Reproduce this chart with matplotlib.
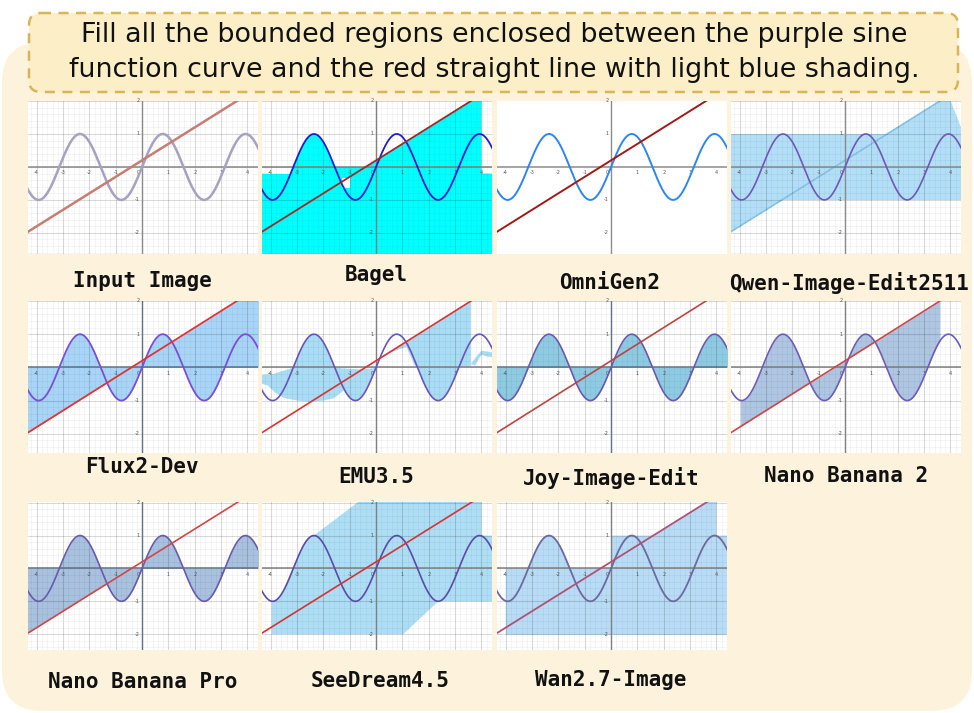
import numpy as np
import matplotlib
matplotlib.use("Agg")
import matplotlib.pyplot as plt
from matplotlib.patches import FancyBboxPatch, Polygon
from matplotlib.ticker import MultipleLocator

# ---------------- data ----------------
TITLE_LINES = ["Fill all the bounded regions enclosed between the purple sine",
               "function curve and the red straight line with light blue shading."]
PANEL_NAMES = ["Input Image", "Bagel", "OmniGen2", "Qwen-Image-Edit2511",
               "Flux2-Dev", "EMU3.5", "Joy-Image-Edit", "Nano Banana 2",
               "Nano Banana Pro", "SeeDream4.5", "Wan2.7-Image"]
SINE_AMPLITUDE = 1.0
SINE_FREQUENCY = 2.0
LINE_SLOPE = 0.5
LINE_INTERCEPT = 0.2
X_TICKS = [-4, -3, -2, -1, 1, 2, 3, 4]
Y_TICKS = [-2, -1, 1, 2]

# Bagel: white gap inside cyan area
BAGEL_GAP_X = [-1.29, -0.98, -0.98, -1.29]
BAGEL_GAP_Y = [-0.35, -0.35, -0.63, -0.63]
# Qwen: band limits, end of the diagonal cut
QWEN_BAND = [-1.0, 1.0]
QWEN_CUT_X = [4.0, 4.45]
QWEN_CUT_Y = [2.02, 1.1]
# EMU3.5 shapes
EMU_L_TOP_X = [-4.4, -3.9, -3.6, -3.3]
EMU_L_TOP_Y = [-0.22, -0.2, -0.12, -0.05]
EMU_L_MID_X = [-1.3, -0.6, -0.1]
EMU_L_MID_Y = [-0.03, -0.06, -0.03]
EMU_L_BOT_X = [-1.6, -2.0, -2.5, -3.0, -3.5, -3.85, -4.1, -4.4]
EMU_L_BOT_Y = [-0.93, -1.0, -1.04, -1.0, -0.92, -0.75, -0.55, -0.48]
EMU_R_BOT_X = [1.45, 1.15, 0.8, 0.5, 0.25]
EMU_R_BOT_Y = [0.08, 0.62, 0.52, 0.42, 0.3]
EMU_TAIL_X = [3.6, 3.8, 4.0, 4.2, 4.45, 4.45, 4.2, 4.0, 3.75]
EMU_TAIL_Y = [0.1, 0.32, 0.5, 0.48, 0.45, 0.3, 0.33, 0.38, 0.05]
# Nano Banana 2 fill range
NB2_RANGE = [-3.97, 3.6]
# SeeDream polygon corners
SD_X = [-3.96, -3.96, 1.03, 2.36, 4.5, 4.5, 4.0, 4.0, -0.55, -2.36]
SD_Y = [-1.0, -2.0, -2.0, -1.0, -1.0, 1.0, 1.0, 2.1, 2.1, 1.0]
# Wan polygon corners
WAN_X = [-4.0, 4.5, 4.5, 4.0, 4.0]
WAN_Y = [-2.02, -2.02, 1.0, 1.0, 2.1]

# ---------------- layout ----------------
W, H = 974, 713
fig = plt.figure(figsize=(W / 100, H / 100), dpi=100)
bg = fig.add_axes([0, 0, 1, 1], zorder=0)
bg.set_xlim(0, W)
bg.set_ylim(H, 0)
bg.axis("off")
bg.add_patch(FancyBboxPatch((2, 42), 970, 669, boxstyle="round,pad=0,rounding_size=40",
                            fc="#FDF3DD", ec="none"))
bg.add_patch(FancyBboxPatch((29, 13), 929, 79, boxstyle="round,pad=0,rounding_size=12",
                            fc="#FCEFC8", ec="#D8B55B", lw=1.8, ls=(0, (4, 3))))
bg.text(494, 35, TITLE_LINES[0], ha="center", va="center", fontsize=19.4, color="#111111")
bg.text(494, 70, TITLE_LINES[1], ha="center", va="center", fontsize=19.4, color="#111111")

COLS = [(28, 258), (262, 492), (497, 727), (731, 961)]
ROWS = [(101, 254), (301, 453), (502, 650)]
ROW_YLIM = [(-2.64, 2.0), (-2.58, 1.98), (-2.48, 2.02)]
XLIM = (-4.33, 4.4)
LABEL_POS = [(142, 281), (376, 275), (610, 283), (849, 283),
             (142, 467), (376, 477), (611, 478), (846, 476),
             (143, 682), (380, 681), (611, 680)]

STYLE = {
    "Input Image": dict(sine="#A6A2C0", line="#C67E74", grid=True, axis="#8A8A8A", lw=1.8),
    "Bagel": dict(sine="#1E1ED2", line="#A42828", grid=True, axis="#808080", lw=1.3),
    "OmniGen2": dict(sine="#2E86F2", line="#A01A1A", grid=False, axis="#8C8C8C", lw=1.4),
    "Qwen-Image-Edit2511": dict(sine="#6F58B8", line=None, grid=True, axis="#8A8A8A", lw=1.2),
    "Flux2-Dev": dict(sine="#7A4FD6", line="#E03434", grid=True, axis="#5E7288", lw=1.3),
    "EMU3.5": dict(sine="#6A55B8", line="#D83434", grid=True, axis="#808080", lw=1.2),
    "Joy-Image-Edit": dict(sine="#6A5AAE", line="#BC4444", grid=True, axis="#5E7288", lw=1.2),
    "Nano Banana 2": dict(sine="#6F5CB8", line="#CC4848", grid=True, axis="#808080", lw=1.2),
    "Nano Banana Pro": dict(sine="#6A5AAE", line="#D04848", grid=True, axis="#5E7288", lw=1.2),
    "SeeDream4.5": dict(sine="#5B4BA6", line="#D43434", grid=True, axis="#808080", lw=1.2),
    "Wan2.7-Image": dict(sine="#6C6A9E", line="#B05276", grid=True, axis="#808080", lw=1.3),
}


def sine(x):
    return SINE_AMPLITUDE * np.sin(SINE_FREQUENCY * x)


def line(x):
    return LINE_SLOPE * x + LINE_INTERCEPT


def sine_pts(a, b, n=80):
    xs = np.linspace(a, b, n)
    return list(zip(xs, sine(xs)))


def line_pts(a, b):
    xs = np.array([a, b])
    return list(zip(xs, line(xs)))


def poly(ax, pts, color, z=1):
    ax.add_patch(Polygon(pts, closed=True, fc=color, ec="none", zorder=z))


def draw_fill(ax, name, xs):
    if name == "Bagel":
        c = "#00FFFF"
        top = 2.2
        pts = [(-4.6, -2.8), (-4.6, -0.2)] + sine_pts(-3.25, -1.5708) + \
              [(-0.4, 0.0)] + line_pts(-0.4, (top - LINE_INTERCEPT) / LINE_SLOPE) + \
              [(4.0, top), (4.0, -0.2), (4.6, -0.2), (4.6, -2.8)]
        poly(ax, pts, c)
        poly(ax, list(zip(BAGEL_GAP_X, BAGEL_GAP_Y)), "white", z=1.1)
    elif name == "Qwen-Image-Edit2511":
        c = "#B2DFF7"
        ax.axhspan(QWEN_BAND[0], QWEN_BAND[1], color=c, lw=0, zorder=1)
        x1 = (QWEN_BAND[1] - LINE_INTERCEPT) / LINE_SLOPE
        x2 = (QWEN_CUT_Y[0] - LINE_INTERCEPT) / LINE_SLOPE
        poly(ax, line_pts(x1, x2) + list(zip(QWEN_CUT_X, QWEN_CUT_Y)) + [(4.6, 1.1), (4.6, 1.0)], c)
        x0 = (QWEN_BAND[0] - LINE_INTERCEPT) / LINE_SLOPE
        poly(ax, line_pts(-4.6, x0) + [(-4.6, QWEN_BAND[0])], c)
        ax.plot(xs, line(xs), color="#86C2E6", lw=1.2, zorder=1.2)
    elif name == "Flux2-Dev":
        c = "#A8D5F7"
        ax.fill_between(xs, 0, line(xs), color=c, lw=0, zorder=1)
        ax.fill_between(xs, 0, sine(xs), color=c, lw=0, zorder=1)
    elif name == "EMU3.5":
        c = "#A9DCF5"
        pts = list(zip(EMU_L_TOP_X, EMU_L_TOP_Y)) + sine_pts(-3.1416, -1.5708) + \
            list(zip(EMU_L_MID_X, EMU_L_MID_Y)) + sine_pts(0.0, -1.2) + \
            list(zip(EMU_L_BOT_X, EMU_L_BOT_Y))
        poly(ax, pts, c)
        pts = line_pts(0.12, 3.6) + [(3.6, 0.03), (3.3, 0.03)] + sine_pts(3.1416, 1.5708) + \
            list(zip(EMU_R_BOT_X, EMU_R_BOT_Y))
        poly(ax, pts, c)
        poly(ax, list(zip(EMU_TAIL_X, EMU_TAIL_Y)), c)
    elif name == "Joy-Image-Edit":
        ax.fill_between(xs, 0, sine(xs), color="#8ECBE2", lw=0, zorder=1)
    elif name == "Nano Banana 2":
        m = (xs >= NB2_RANGE[0]) & (xs <= NB2_RANGE[1])
        ax.fill_between(xs[m], sine(xs[m]), line(xs[m]), color="#AEC6E2", lw=0, zorder=1)
    elif name == "Nano Banana Pro":
        c = "#A8C1DE"
        ax.fill_between(xs, 0, sine(xs), color=c, lw=0, zorder=1)
        ax.fill_between(xs, 0, np.minimum(line(xs), 0), color=c, lw=0, zorder=1)
    elif name == "SeeDream4.5":
        pts = list(zip(SD_X, SD_Y)) + sine_pts(-2.356, -3.927)
        poly(ax, pts, "#ADDEF6")
    elif name == "Wan2.7-Image":
        c = "#B9DCF6"
        pts = list(zip(WAN_X, WAN_Y)) + line_pts((2.1 - LINE_INTERCEPT) / LINE_SLOPE,
                                                  (1.0 - LINE_INTERCEPT) / LINE_SLOPE) + \
            [(0.0, 1.0), (0.0, 0.0), (-1.5708, 0.0)] + sine_pts(-1.5708, -3.1416) + [(-4.0, 0.0)]
        poly(ax, pts, c)


xs = np.linspace(-4.6, 4.6, 800)
for i, name in enumerate(PANEL_NAMES):
    r, c = divmod(i, 4)
    l, rr = COLS[c]
    t, b = ROWS[r]
    ax = fig.add_axes([l / W, 1 - b / H, (rr - l) / W, (b - t) / H], zorder=2)
    st = STYLE[name]
    ax.set_xlim(*XLIM)
    ax.set_ylim(*ROW_YLIM[r])
    ax.set_facecolor("white")
    for s in ax.spines.values():
        s.set_visible(False)
    ax.set_xticks(X_TICKS + [0])
    ax.set_yticks(Y_TICKS + [0])
    ax.xaxis.set_minor_locator(MultipleLocator(0.2))
    ax.yaxis.set_minor_locator(MultipleLocator(0.2))
    ax.tick_params(which="both", length=0, labelbottom=False, labelleft=False)
    if st["grid"]:
        ax.set_axisbelow(False)
        ax.grid(which="major", color="#000000", alpha=0.15, lw=0.8)
        ax.grid(which="minor", color="#000000", alpha=0.06, lw=0.5)
    else:
        ax.grid(False)
    draw_fill(ax, name, xs)
    ax.axhline(0, color=st["axis"], lw=1.1, zorder=2.6)
    ax.axvline(0, color=st["axis"], lw=1.0, zorder=2.6)
    for v in X_TICKS:
        ax.text(v, -0.1, str(v), fontsize=3.5, ha="center", va="top", color="#555555", zorder=2.7)
    for v in Y_TICKS:
        ax.text(-0.1, v, str(v), fontsize=3.5, ha="right", va="center", color="#555555", zorder=2.7)
    ax.text(-0.08, -0.1, "0", fontsize=3.5, ha="right", va="top", color="#555555", zorder=2.7)
    ax.plot(xs, sine(xs), color=st["sine"], lw=st["lw"], zorder=3)
    if st["line"]:
        ax.plot(xs, line(xs), color=st["line"], lw=st["lw"], zorder=3)
    lx, ly = LABEL_POS[i]
    bg.text(lx, ly, name, ha="center", va="center", fontsize=15, fontweight="bold",
            family="DejaVu Sans Mono", color="#111111")

fig.savefig("out.png", dpi=100)
